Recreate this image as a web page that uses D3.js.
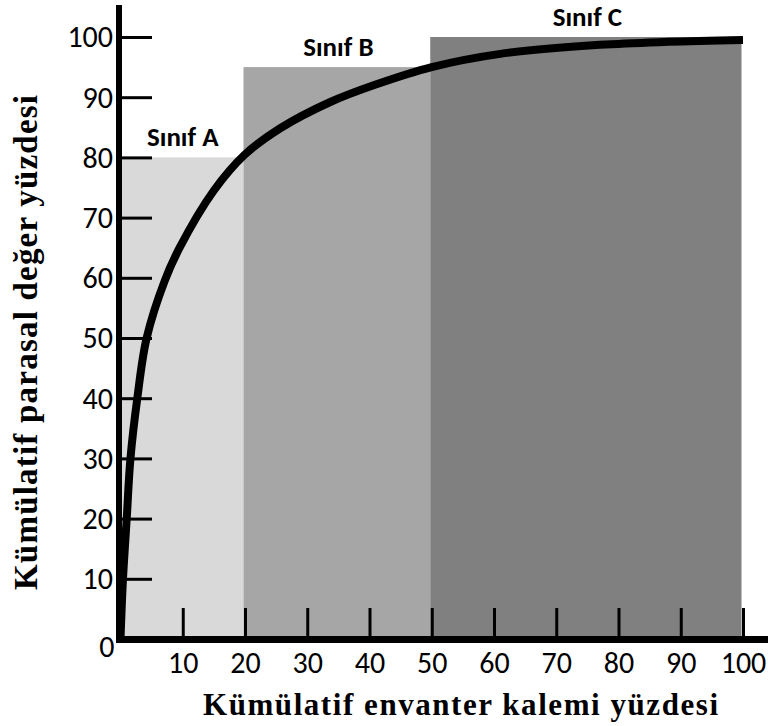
<!DOCTYPE html>
<html>
<head>
<meta charset="utf-8">
<script src="https://cdn.jsdelivr.net/npm/d3@7"></script>
<style>
  body { margin: 0; background: #fff; }
  .tick text { font-family: Carlito, Lato, sans-serif; font-size: 30px; fill: #000; }
</style>
</head>
<body>
<div id="chart"></div>
<script>
// class bands (cumulative % of items -> cumulative % of value)
var classNames = ["Sınıf A", "Sınıf B", "Sınıf C"];
var classStart = [0, 20, 50];
var classEnd = [20, 50, 100];
var classTop = [80, 95, 100];
var classColor = ["#d9d9d9", "#a6a6a6", "#808080"];

// curve
var curveX = [0, 0.4, 1.0, 1.6, 2.7, 4.2, 7.1, 9.5, 15, 20, 25.6, 33.7, 41, 50, 61, 77, 88, 100];
var curveY = [0, 10, 20, 30, 40, 50, 59.5, 65, 74.5, 80.5, 84.8, 89.2, 92.1, 95, 97.2, 98.7, 99.2, 99.5];

var xTicks = [10, 20, 30, 40, 50, 60, 70, 80, 90, 100];
var yTicks = [10, 20, 30, 40, 50, 60, 70, 80, 90, 100];

var width = 768, height = 726;

var svg = d3.select("#chart").append("svg")
    .attr("width", width)
    .attr("height", height);

var x = d3.scaleLinear().domain([0, 100]).range([120.5, 743]);
var y = d3.scaleLinear().domain([0, 100]).range([639, 37]);

// bars
svg.selectAll("rect.band")
    .data(classNames)
    .enter().append("rect")
    .attr("class", "band")
    .attr("x", function (d, i) { return x(classStart[i]) - 1.5; })
    .attr("y", function (d, i) { return y(classTop[i]); })
    .attr("width", function (d, i) { return x(classEnd[i]) - x(classStart[i]); })
    .attr("height", function (d, i) { return y(0) - y(classTop[i]); })
    .style("fill", function (d, i) { return classColor[i]; });

svg.selectAll("text.band")
    .data(classNames)
    .enter().append("text")
    .attr("class", "band")
    .attr("x", function (d, i) { return x((classStart[i] + classEnd[i]) / 2); })
    .attr("y", function (d, i) { return y(classTop[i]) - 11; })
    .attr("text-anchor", "middle")
    .style("font-family", "Carlito, Lato, sans-serif")
    .style("font-weight", "bold")
    .style("font-size", "27px")
    .text(function (d) { return d; });

// curve
var pts = curveX.map(function (d, i) { return [d, curveY[i]]; });
var line = d3.line()
    .x(function (d) { return x(d[0]); })
    .y(function (d) { return y(d[1]); })
    .curve(d3.curveCatmullRom.alpha(0.5));

svg.append("path")
    .datum(pts)
    .attr("d", line)
    .style("fill", "none")
    .style("stroke", "#000")
    .style("stroke-width", 8);

// axes
var yAxis = d3.axisLeft(y).tickValues(yTicks).tickSize(-30).tickPadding(9);
var gy = svg.append("g").attr("transform", "translate(122,0)").call(yAxis);
gy.select(".domain").remove();
gy.selectAll(".tick line").style("stroke", "#000").style("stroke-width", 3);
gy.selectAll(".tick text").attr("dy", "0.33em");

var xAxis = d3.axisBottom(x).tickValues(xTicks).tickSize(-29).tickPadding(0);
var gx = svg.append("g").attr("transform", "translate(0,637)").call(xAxis);
gx.select(".domain").remove();
gx.selectAll(".tick line").style("stroke", "#000").style("stroke-width", 3);
gx.selectAll(".tick text").attr("y", 36).attr("dy", 0);

// thick axis lines
svg.append("line")
    .attr("x1", x(0) - 1.5).attr("x2", x(0) - 1.5)
    .attr("y1", 5).attr("y2", y(0) + 4)
    .style("stroke", "#000").style("stroke-width", 6);
svg.append("line")
    .attr("x1", x(0) - 4.5).attr("x2", width)
    .attr("y1", y(0) + 0.5).attr("y2", y(0) + 0.5)
    .style("stroke", "#000").style("stroke-width", 7);

svg.append("text")
    .attr("x", x(0) - 6)
    .attr("y", y(0) + 18)
    .attr("text-anchor", "end")
    .style("font-family", "Carlito, Lato, sans-serif")
    .style("font-size", "30px")
    .text("0");

// axis titles
svg.append("text")
    .attr("x", 203)
    .attr("y", 715)
    .attr("textLength", 515)
    .attr("lengthAdjust", "spacing")
    .style("font-family", "'Liberation Serif', 'Times New Roman', serif")
    .style("font-weight", "bold")
    .style("font-size", "31px")
    .text("Kümülatif envanter kalemi yüzdesi");

svg.append("text")
    .attr("transform", "translate(37,590) rotate(-90)")
    .attr("textLength", 495)
    .attr("lengthAdjust", "spacing")
    .style("font-family", "'Liberation Serif', 'Times New Roman', serif")
    .style("font-weight", "bold")
    .style("font-size", "33px")
    .text("Kümülatif parasal değer yüzdesi");
</script>
</body>
</html>
